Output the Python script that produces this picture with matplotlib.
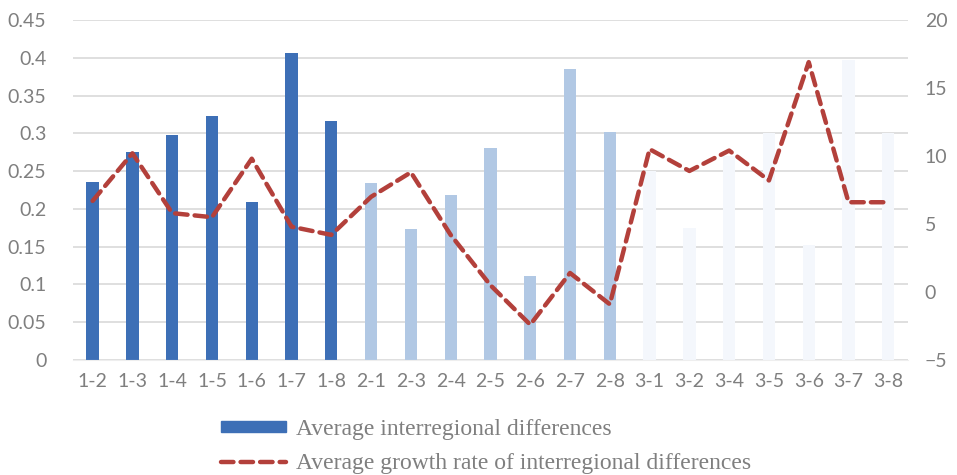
import matplotlib
matplotlib.use("Agg")
import matplotlib.pyplot as plt
import numpy as np

# Region pairs on the x axis
pairs = ["1-2", "1-3", "1-4", "1-5", "1-6", "1-7", "1-8",
         "2-1", "2-3", "2-4", "2-5", "2-6", "2-7", "2-8",
         "3-1", "3-2", "3-4", "3-5", "3-6", "3-7", "3-8"]

# Average interregional differences (left axis)
avg_diff = [0.235, 0.275, 0.298, 0.323, 0.209, 0.406, 0.316,
            0.234, 0.174, 0.218, 0.281, 0.111, 0.385, 0.302,
            0.250, 0.175, 0.270, 0.300, 0.152, 0.397, 0.300]

# Average growth rate of interregional differences (right axis)
growth = [6.7, 10.2, 5.8, 5.5, 9.8, 4.8, 4.2,
          7.0, 8.8, 4.2, 0.5, -2.4, 1.4, -0.9,
          10.5, 8.9, 10.4, 8.2, 16.9, 6.6, 6.6]

group_colors = {"1": "#3d6fb6", "2": "#b1c8e4", "3": "#f4f7fc"}
bar_colors = [group_colors[p[0]] for p in pairs]

tick_color = "#7f7f7f"
grid_color = "#d9d9d9"

fig = plt.figure(figsize=(9.57, 4.75), dpi=100)
ax = fig.add_axes([0.076, 0.242, 0.873, 0.716])

x = np.arange(len(pairs))
bars = ax.bar(x, avg_diff, width=0.31, color=bar_colors, zorder=2,
              label="Average interregional differences")

ax.set_ylim(0, 0.45)
ax.set_yticks(np.arange(0, 0.451, 0.05))
ax.set_yticklabels(["0", "0.05", "0.1", "0.15", "0.2", "0.25", "0.3",
                    "0.35", "0.4", "0.45"])
ax.set_xlim(-0.5, len(pairs) - 0.5)
ax.set_xticks(x)
ax.set_xticklabels(pairs)
ax.yaxis.grid(True, color=grid_color, linewidth=1.2, zorder=0)
ax.set_axisbelow(True)

for side in ["top", "right", "left"]:
    ax.spines[side].set_visible(False)
ax.spines["bottom"].set_color("#eeeeee")
ax.tick_params(axis="both", length=0, colors=tick_color, labelsize=14)
ax.tick_params(axis="y", pad=19)
ax.tick_params(axis="x", pad=9)

ax2 = ax.twinx()
line, = ax2.plot(x, growth, color="#b3403b", linewidth=3.2,
                 dashes=(2.8, 1.6), dash_capstyle="round",
                 dash_joinstyle="round", zorder=3,
                 label="Average growth rate of interregional differences")
ax2.set_ylim(-5, 20)
ax2.set_yticks([-5, 0, 5, 10, 15, 20])
for side in ["top", "right", "left", "bottom"]:
    ax2.spines[side].set_visible(False)
ax2.tick_params(axis="y", length=0, colors=tick_color, labelsize=14, pad=12)

for lbl in ax.get_xticklabels() + ax.get_yticklabels() + ax2.get_yticklabels():
    lbl.set_family("Lato")

leg = fig.legend(handles=[bars, line], loc="upper left",
                 bbox_to_anchor=(0.219, 0.143), frameon=False,
                 prop={"family": "Liberation Serif", "size": 17},
                 handlelength=2.75, handleheight=0.35, handletextpad=0.42,
                 labelspacing=0.55, borderpad=0)
for t in leg.get_texts():
    t.set_color(tick_color)
# legend patch uses the dark group colour
leg.legend_handles[0].set_color(group_colors["1"])

fig.savefig("out.png", dpi=100, facecolor="white")
